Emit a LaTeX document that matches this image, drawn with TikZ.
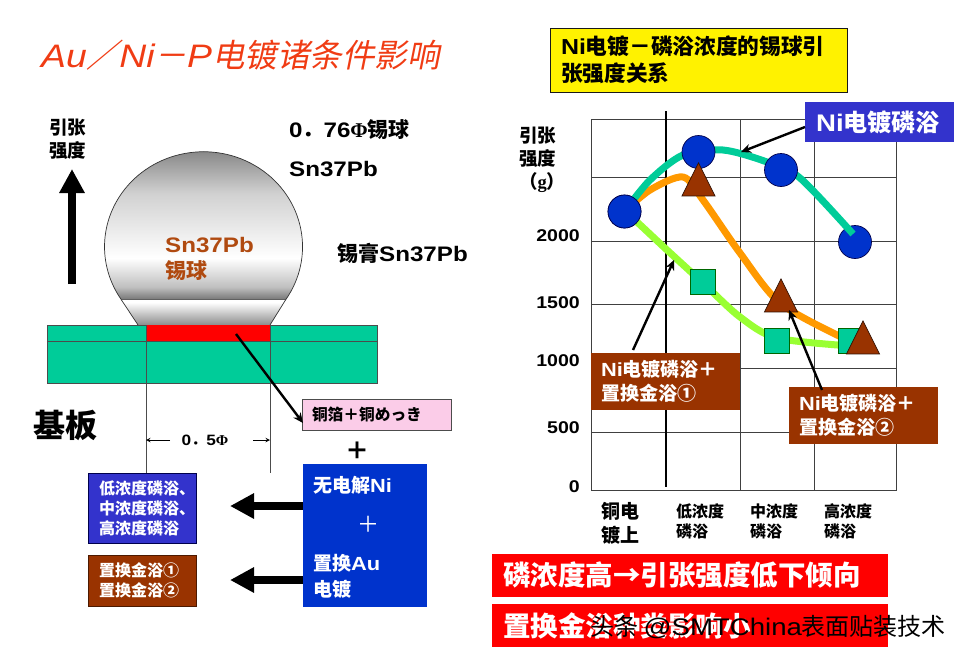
\documentclass[tikz,border=0pt]{standalone}
\usepackage{fontspec}
\setmainfont{Noto Sans CJK SC}
\newfontfamily\latf[FakeStretch=1.15]{Liberation Sans}
\newfontfamily\phif{Liberation Serif}
\newfontfamily\slantf[FakeSlant=0.2]{Noto Sans CJK SC}
\newcommand{\sz}[1]{\fontsize{#1pt}{\the\dimexpr#1pt*5/4\relax}\selectfont}
\usetikzlibrary{arrows.meta,shapes.geometric}
\definecolor{boardgreen}{RGB}{0,204,153}
\definecolor{ballblue}{RGB}{0,51,204}
\definecolor{boxblue}{RGB}{51,51,204}
\definecolor{boxbrown}{RGB}{153,51,0}
\definecolor{titlered}{RGB}{240,60,20}
\definecolor{ballbrown}{RGB}{176,74,16}
\definecolor{limeline}{RGB}{153,255,51}
\definecolor{orangeline}{RGB}{255,153,0}
\pgfdeclareverticalshading{ballshade}{100bp}{color(0bp)=(black!55);color(25bp)=(black!55);color(29bp)=(black!25);color(38bp)=(white);color(58bp)=(black!18);color(75bp)=(black!55);color(100bp)=(black!55)}
\pgfdeclareverticalshading{neckshade}{100bp}{color(0bp)=(black!45);color(25bp)=(black!45);color(70bp)=(white);color(75bp)=(white);color(100bp)=(white)}
\begin{document}
\begin{tikzpicture}[x=1pt,y=-1pt]
\tikzstyle{txt}=[inner sep=0pt,anchor=west,align=left,font=\bfseries]
\tikzstyle{box}=[inner sep=0pt,inner xsep=11pt,align=left,font=\bfseries,text=white]
\tikzstyle{gridline}=[draw=black!75,line width=1pt]
\tikzstyle{fatarrow}=[line width=8pt,-{Triangle[length=24pt,width=24pt]}]
\tikzstyle{thinarrow}=[line width=2.4pt,-{Stealth[length=10pt,width=9pt]}]
\tikzstyle{curve}=[line width=7pt]
\tikzstyle{dot}=[circle,draw=black!70!blue,fill=ballblue,line width=0.7pt,minimum size=33pt,inner sep=0pt]
\tikzstyle{sq}=[rectangle,draw=black!60!green,fill=boardgreen,line width=0.8pt,minimum size=25pt,inner sep=0pt]
\tikzstyle{tri}=[isosceles triangle,shape border rotate=90,isosceles triangle stretches,draw=black!70!boxbrown,fill=boxbrown,line width=0.7pt,minimum width=33pt,minimum height=33pt,inner sep=0pt,anchor=apex]
\useasboundingbox (0,0) rectangle (966,659);
\node[txt,anchor=west,font=\sz{32.5},text=titlered] (title) at (41,55) {{\latf\itshape Au}{\slantf ／}{\latf\itshape Ni}{\slantf －}{\latf\itshape P}{\slantf 电镀诸条件影响}};
% ball and board
\shade[shading=ballshade,draw=black!80,line width=0.7pt] (285.5,300) arc[start angle=-34.1,end angle=214.1,x radius=99pt,y radius=95pt] -- cycle;
\shade[shading=neckshade,draw=none] (121.5,300) -- (285.5,300) -- (270,325) -- (138,325) -- cycle;
\draw[black!80,line width=0.7pt] (121.5,300) -- (138,325) (285.5,300) -- (270,325);
\node[draw=black!70,fill=boardgreen,minimum width=330pt,minimum height=58pt,inner sep=0pt] (board) at (212,354) {};
\node[fill=red,minimum width=123pt,minimum height=16pt,inner sep=0pt] (pad) at (208,333) {};
\draw[black!70,line width=0.8pt] (board.west |- pad.south) -- (board.east |- pad.south);
\coordinate (dimL) at (146,473);
\coordinate (dimR) at (270,473);
\draw[black!70,line width=1pt] (146,325) -- (dimL);
\draw[black!70,line width=1pt] (270,325) -- (dimR);
\node[txt,font=\bfseries\sz{18.5}] (pull) at (49,139) {引张\\强度};
\coordinate (pullA) at (72,284);
\coordinate (pullB) at (72,169);
\draw[fatarrow] (pullA) -- (pullB);
\node[txt,font=\bfseries\sz{21}] (size) at (289,130) {{\latf 0}．{\latf 76}{\phif Φ}锡球};
\node[txt,font=\bfseries\latf\sz{21}] (alloy) at (289,169) {Sn37Pb};
\node[txt,font=\bfseries\sz{21}] (paste) at (337,253) {锡膏{\latf Sn37Pb}};
\node[txt,font=\bfseries\sz{21},text=ballbrown] (ball) at (165,259) {{\latf Sn37Pb}\\锡球};
\node[txt,font=\bfseries\sz{32}] (base) at (33,425) {基板};
\node[box,text=black,draw=black!70,fill=magenta!20,line width=1pt,minimum width=149pt,minimum height=31pt,inner xsep=10pt,text width=129pt,font=\bfseries\sz{15.7}] (foil) at (376.5,414.5) {铜箔＋铜めっき};
\coordinate (padpt) at (236,334);
\coordinate (foilpt) at (303,423);
\draw[thinarrow] (padpt) -- (foilpt);
\node[font=\bfseries\sz{15},inner sep=0pt] (dim) at (205,440) {{\latf 0}．{\latf 5}{\phif Φ}};
\coordinate (dimA) at (170,440);
\coordinate (dimB) at (253,440);
\draw[-stealth,line width=1pt] (dimA) -- (dimL |- dimA);
\draw[-stealth,line width=1pt] (dimB) -- (dimR |- dimB);
\node[font=\bfseries\sz{24},inner sep=0pt] (plus) at (357,451) {＋};
\node[fill=ballblue,minimum width=124pt,minimum height=143pt,inner sep=0pt] (plating) at (365,535.5) {};
\node[txt,text=white,font=\bfseries\sz{19}] (ni) at (313,485) {无电解{\latf Ni}};
\node[text=white,inner sep=0pt,font=\sz{22}] (niplus) at (368,524) {＋};
\node[txt,text=white,font=\bfseries\sz{19}] (au) at (313,576) {置换{\latf Au}\\[2pt]电镀};
\node[box,draw=black!70!blue,fill=boxblue,minimum width=108pt,minimum height=70pt,text width=86pt,font=\bfseries\sz{16}] (bath) at (142,508) {低浓度磷浴、\\中浓度磷浴、\\高浓度磷浴};
\node[box,draw=black!50!boxbrown,fill=boxbrown,minimum width=108pt,minimum height=51pt,text width=86pt,font=\bfseries\sz{16}] (gold) at (142,580.5) {置换金浴①\\置换金浴②};
\coordinate (bathpt) at (230,506);
\coordinate (goldpt) at (230,580);
\draw[fatarrow] (plating.west |- bathpt) -- (bathpt);
\draw[fatarrow] (plating.west |- goldpt) -- (goldpt);
% chart
\node[box,text=black,draw=black!90,fill=yellow,line width=1pt,minimum width=297pt,minimum height=64pt,text width=275pt,font=\bfseries\sz{21.7}] (head) at (698.5,60) {{\latf Ni}电镀－磷浴浓度的锡球引\\张强度关系};
\draw[gridline] (591,119) rectangle (896,490);
\foreach \gy in {177,241,304.5,368,432} \draw[gridline] (591,\gy) -- (896,\gy);
\foreach \gx in {740,814} \draw[gridline] (\gx,119) -- (\gx,490);
\draw[line width=2pt] (666,111) -- (666,487);
\node[txt,font=\bfseries\sz{18.5}] (yname) at (519,160) {引张\\强度\\（{\phif g}）};
\foreach \yv/\yp in {2000/235.5,1500/302.5,1000/360.5,500/427.5,0/486.5}
  \node[inner sep=0pt,anchor=east,font=\bfseries\latf\sz{17}] (y\yv) at (580,\yp) {\yv};
\node[txt,font=\bfseries\sz{19}] (cat0) at (601,523) {铜电\\镀上};
\node[txt,font=\bfseries\sz{16}] (cat1) at (676,521) {低浓度\\磷浴};
\node[txt,font=\bfseries\sz{16}] (cat2) at (750,521) {中浓度\\磷浴};
\node[txt,font=\bfseries\sz{16}] (cat3) at (824,521) {高浓度\\磷浴};
\node[dot] (c4) at (855,242) {};
\node[dot] (c1) at (624.5,211.5) {};
\draw[curve,limeline] plot[smooth] coordinates {(c1.center) (637,222) (667,250) (703,283) (740,317) (777,338) (851,346)};
\draw[curve,orangeline] plot[smooth] coordinates {(c1.center) (650,190) (683,177) (703,200) (740,253) (780,303) (843,338) (856,343)};
\draw[curve,boardgreen] plot[smooth] coordinates {(c1.center) (650,180) (683,155) (723,150) (767,162) (800,178) (853,234)};
\node[dot] at (c1) {};
\node[dot] (c2) at (698.5,152) {};
\node[dot] (c3) at (781,170) {};
\node[sq] (s1) at (703,282) {};
\node[sq] (s2) at (777,341) {};
\node[sq] (s3) at (851,341) {};
\node[tri] (t1) at (698.5,162) {};
\node[tri] (t2) at (781,278) {};
\node[tri] (t3) at (863,320) {};
\node[fill=boxblue,minimum width=149pt,minimum height=40pt,inner sep=0pt,text=white,font=\bfseries\sz{24}] (nibox) at (879.5,122) {\hspace{-3pt}{\latf Ni}电镀磷浴\hspace{3pt}};
\node[box,fill=boxbrown,minimum width=149pt,minimum height=57pt,inner xsep=10pt,text width=129pt,font=\bfseries\sz{19}] (goldA) at (665.5,381.5) {{\latf Ni}电镀磷浴＋\\置换金浴①};
\node[box,fill=boxbrown,minimum width=149pt,minimum height=57pt,inner xsep=10pt,text width=129pt,font=\bfseries\sz{19}] (goldB) at (863.5,415.5) {{\latf Ni}电镀磷浴＋\\置换金浴②};
\coordinate (teal) at (741,152);
\coordinate (lime) at (674,260);
\coordinate (orange) at (789,310);
\draw[thinarrow] (805,127) -- (teal);
\draw[thinarrow] (633,350) -- (lime);
\draw[thinarrow] (822,390) -- (orange);
\node[box,fill=red,minimum width=396pt,minimum height=43pt,text width=374pt,font=\bfseries\sz{27.5}] (conc) at (690,575.5) {磷浓度高→引张强度低下倾向};
\node[box,fill=red,minimum width=396pt,minimum height=43pt,text width=374pt,font=\bfseries\sz{27.5}] (type) at (690,625.5) {置换金浴种类影响小};
\node[inner sep=0pt,anchor=west,font=\sz{24}] (mark) at (590,627) {头条 {\latf @SMTChina}表面贴装技术};
\end{tikzpicture}
\end{document}
